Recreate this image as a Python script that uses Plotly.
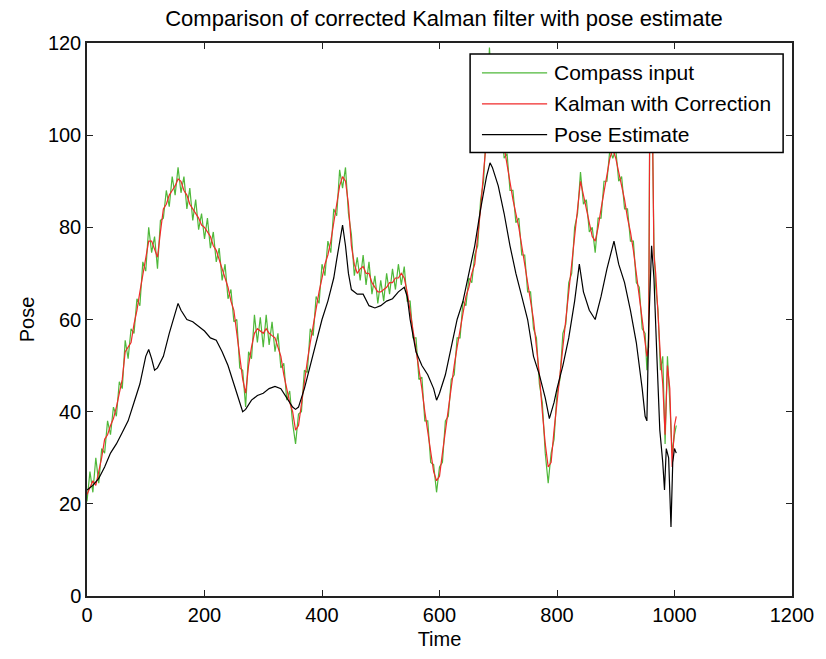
import plotly.graph_objects as go

# ---------------- data ----------------
time = [0, 5, 10, 15, 20, 25, 30, 35, 40, 45, 50, 55, 60, 65, 70, 75, 80, 85, 90, 95,
        100, 105, 110, 115, 120, 125, 130, 135, 140, 145, 150, 155, 160, 165, 170, 175, 180, 185, 190, 195,
        200, 205, 210, 215, 220, 225, 230, 235, 240, 245, 250, 255, 260, 265, 270, 275, 280, 285, 290, 295,
        300, 305, 310, 315, 320, 325, 330, 335, 340, 345, 350, 355, 360, 365, 370, 375, 380, 385, 390, 395,
        400, 405, 410, 415, 420, 425, 430, 435, 440, 445, 450, 455, 460, 465, 470, 475, 480, 485, 490, 495,
        500, 505, 510, 515, 520, 525, 530, 535, 540, 545, 550, 555, 560, 565, 570, 575, 580, 585, 590, 595,
        600, 605, 610, 615, 620, 625, 630, 635, 640, 645, 650, 655, 660, 665, 670, 675, 680, 685, 690, 695,
        700, 705, 710, 715, 720, 725, 730, 735, 740, 745, 750, 755, 760, 765, 770, 775, 780, 785, 790, 795,
        800, 805, 810, 815, 820, 825, 830, 835, 840, 845, 850, 855, 860, 865, 870, 875, 880, 885, 890, 895,
        900, 905, 910, 915, 920, 925, 930, 935, 940, 945, 950,
        953, 956, 958, 962, 965, 968, 972, 976, 980, 984, 988, 992, 996, 1000, 1003]

compass = [20.5, 27, 22.5, 30, 24.5, 32, 31, 38, 35, 41, 39, 46.5, 45, 55.5, 51.5, 58, 57, 64.5, 63, 72.5,
           70.5, 80, 74.5, 78, 71, 81.5, 82, 88, 84.5, 91, 87, 93, 87.5, 91, 84, 88.5, 81.5, 86, 79.5, 83,
           77.5, 82, 75.5, 79, 72.5, 75.5, 68.5, 72, 64.5, 66.5, 59.5, 60, 49.5, 49, 41, 53, 51.5, 61, 55, 60.5,
           54, 61, 54.5, 59.5, 53, 57, 49.5, 50.5, 42.5, 44.5, 37.5, 33, 39.5, 40, 49, 48.5, 58, 56.5, 65, 63.5,
           72, 69.5, 77, 74.5, 84, 82.5, 92.5, 88.5, 93, 83, 78.5, 69.5, 73.5, 68.5, 74, 67.5, 72.5, 65.5, 69.5, 63.5,
           68.5, 64, 70, 65.5, 71, 66.5, 72, 67.5, 71.5, 64, 64, 56, 56, 47, 47.5, 38, 38, 29, 28.5, 22.5,
           28, 29, 38, 39, 47, 48, 56, 56, 64, 63, 69, 68, 74, 76, 86, 90, 102, 119, 108, 111,
           103, 103, 95, 96, 88, 88, 81, 82, 74, 74, 66, 66, 58, 56, 46, 42, 31, 24.5, 31, 34,
           44, 47, 57, 59, 68, 70, 80, 83, 92, 85, 86, 79, 80, 74.5, 82, 82, 90, 90, 97, 95,
           97, 90, 91, 84, 84, 77, 77, 68, 67, 58, 57,
           49, 56, 108, 106, 76, 67, 62, 49, 52, 33, 52, 42, 31, 35, 37]

kalman = [22, 23.5, 25, 24, 27, 30, 34, 35, 37, 38.5, 41, 44, 47, 53, 54, 55, 59, 62, 66, 70,
          73, 77, 77, 75, 73.5, 79, 84, 85, 87, 88, 89, 90.5, 90, 88, 87, 85, 84, 83, 82, 80.5,
          80, 79, 78, 76, 75, 73, 71, 69, 67, 64, 62, 57, 52, 47, 44, 50, 54, 57, 58, 57.5,
          57, 58, 57, 56.5, 56, 54, 52, 48, 45, 42, 40, 36, 37, 42, 46, 51, 55, 59, 62, 66,
          69, 72, 74, 77, 81, 85, 89, 91, 90, 85, 76, 72, 70, 71, 71.5, 70, 70, 68, 67, 66,
          66, 66.5, 67, 68, 68, 69, 69, 70, 69, 66, 62, 58, 54, 49, 45, 40, 36, 31, 27, 25,
          26, 31, 36, 41, 45, 50, 54, 58, 62, 65, 67, 70, 72, 78, 84, 92, 100, 106, 110, 109,
          105, 101, 97, 94, 90, 86, 83, 80, 76, 72, 68, 64, 60, 54, 48, 40, 33, 28, 29, 36,
          42, 49, 55, 61, 66, 72, 78, 85, 90, 87, 84, 81, 78, 77, 80, 84, 88, 92, 95, 97,
          95, 92, 89, 86, 82, 79, 75, 70, 65, 60, 55,
          52, 54, 108, 108, 74, 70, 60, 52, 46, 35, 50, 45, 28, 37, 39]

pose_time = [0, 10, 20, 30, 40, 50, 60, 70, 80, 90, 100, 105, 110, 115, 120, 130, 140, 150, 155, 160,
             170, 180, 190, 200, 210, 220, 230, 240, 250, 260, 265, 270, 280, 290, 300, 310, 320, 330, 340, 350,
             355, 360, 370, 380, 390, 400, 410, 420, 425, 430, 435, 440, 445, 450, 460, 470, 480, 490, 500, 510,
             520, 530, 540, 545, 550, 560, 570, 580, 590, 595, 600, 610, 620, 630, 640, 650, 660, 670, 680, 686,
             690, 700, 710, 720, 730, 740, 750, 760, 770, 780, 787, 795, 800, 810, 820, 830, 838, 845, 855, 865,
             875, 885, 897, 905, 915, 925, 935, 945, 950, 953, 956, 961, 965, 970, 975, 980, 983, 986, 990, 994,
             997, 1000, 1003]

pose = [23, 24, 25.5, 28, 31, 33, 35.5, 38, 42, 46, 52, 53.5, 51.5, 49, 49.5, 52, 57, 61.5, 63.5, 62,
        60, 59.5, 58.5, 57.5, 56, 55.5, 53, 50, 46, 42, 40, 40.5, 42.5, 43.5, 44, 45, 45.5, 45, 43, 41,
        40.5, 41, 45, 50, 55, 60, 64, 69, 73, 77, 80.5, 76, 70, 66.5, 65.5, 65.5, 63, 62.5, 63, 64,
        64.5, 66, 67, 65, 60, 53, 50, 48, 45, 42.5, 44, 48, 54, 60, 64, 70, 76, 84, 91, 94,
        93, 89, 83, 76, 70, 65, 60, 52, 48, 43, 38.5, 42, 45, 50, 56, 64, 72, 66, 62, 60,
        65, 71, 77, 72, 68, 62, 55, 45, 39, 38, 58, 76, 69, 52, 36, 29, 23, 32, 30, 15,
        29, 32, 31]

series_names = ["Compass input", "Kalman with Correction", "Pose Estimate"]
series_colors = ["#4fb83a", "#f02a2a", "#000000"]

x_ticks = [0, 200, 400, 600, 800, 1000, 1200]
y_ticks = [0, 20, 40, 60, 80, 100, 120]

# ---------------- figure ----------------
W, H = 826, 659
ML, MR, MT, MB = 87, 25, 43, 61

fig = go.Figure()
for xs, ys, name, col in [(time, compass, series_names[0], series_colors[0]),
                          (time, kalman, series_names[1], series_colors[1]),
                          (pose_time, pose, series_names[2], series_colors[2])]:
    fig.add_trace(go.Scatter(x=xs, y=ys, mode="lines", name=name,
                             line=dict(color=col, width=1.2), showlegend=False))

tick_font = dict(family="Liberation Sans, Arial, sans-serif", size=20, color="#000000")

fig.update_layout(
    width=W, height=H,
    margin=dict(l=ML, r=MR, t=MT, b=MB),
    paper_bgcolor="white", plot_bgcolor="white",
    title=dict(text="Comparison of corrected Kalman filter with pose estimate",
               x=(ML + (W - ML - MR) / 2) / W, xanchor="center", y=1 - 18 / H, yanchor="middle",
               font=dict(family="Liberation Sans, Arial, sans-serif", size=22, color="#000")),
    xaxis=dict(range=[0, 1200], tickvals=x_ticks, ticks="inside", ticklen=6, tickwidth=1.3,
               tickcolor="#222", showline=True, linecolor="#222", linewidth=1.5, mirror="ticks",
               showgrid=False, zeroline=False, tickfont=tick_font,
               title=dict(text="Time", font=tick_font, standoff=7)),
    yaxis=dict(range=[0, 120], tickvals=y_ticks, ticks="inside", ticklen=6, tickwidth=1.3,
               tickcolor="#222", showline=True, linecolor="#222", linewidth=1.5, mirror="ticks",
               showgrid=False, zeroline=False, tickfont=tick_font,
               title=dict(text="Pose", font=tick_font, standoff=8)),
    showlegend=False,
)

# ---------------- manual MATLAB-style legend ----------------
pw, ph = W - ML - MR, H - MT - MB
def px_x(p):
    return (p - ML) / pw
def px_y(p):
    return (H - MB - p) / ph

fig.add_shape(type="rect", xref="paper", yref="paper",
              x0=px_x(475), x1=px_x(792), y0=px_y(153), y1=px_y(54),
              line=dict(color="#000", width=1.5), fillcolor="white", layer="above")
legend_rows = [73, 104, 135]
for name, col, yy in zip(series_names, series_colors, legend_rows):
    fig.add_shape(type="line", xref="paper", yref="paper",
                  x0=px_x(487), x1=px_x(553), y0=px_y(yy), y1=px_y(yy),
                  line=dict(color=col, width=1.2), layer="above")
    fig.add_annotation(xref="paper", yref="paper", x=px_x(558), y=px_y(yy),
                       xanchor="left", yanchor="middle", showarrow=False, text=name,
                       font=dict(family="Liberation Sans, Arial, sans-serif", size=21, color="#000"))

fig.write_html("out.html")
